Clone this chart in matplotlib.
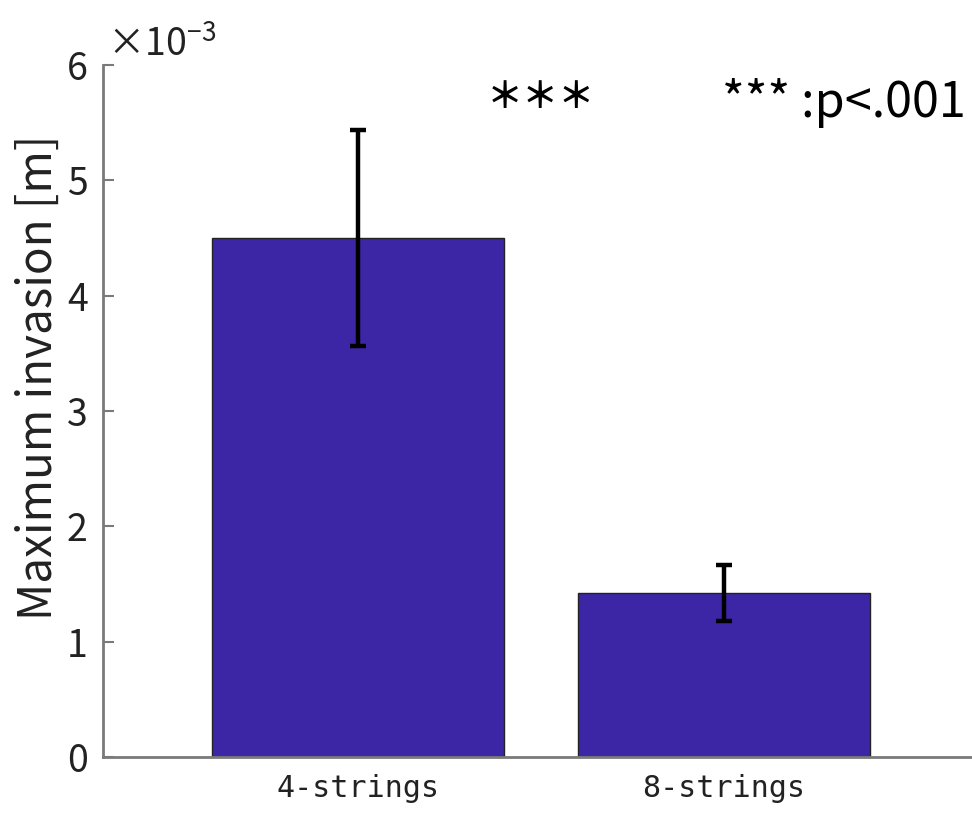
import matplotlib
matplotlib.use("Agg")
import matplotlib.pyplot as plt
from matplotlib.ticker import FuncFormatter

plt.rcParams['font.family'] = ['Noto Sans CJK JP', 'DejaVu Sans']
plt.rcParams['mathtext.fontset'] = 'custom'
plt.rcParams['mathtext.rm'] = 'Noto Sans CJK JP'

# Data (metres)
categories = ["4-strings", "8-strings"]
means = [4.50e-3, 1.42e-3]
errors = [0.94e-3, 0.243e-3]
yticks = [0, 1e-3, 2e-3, 3e-3, 4e-3, 5e-3, 6e-3]

bar_color = "#3C26A6"
axis_gray = "#7a7a7a"
text_color = "#222222"

fig = plt.figure(figsize=(9.72, 8.16), dpi=100)
ax = fig.add_axes([0.106, 0.0723, 0.894, 0.848])

x = [1, 2]
ax.bar(x, means, width=0.8, color=bar_color, edgecolor="#222222", linewidth=1.0, zorder=2)
ax.errorbar(x, means, yerr=errors, fmt="none", ecolor="black", elinewidth=3.2,
            capsize=6, capthick=3.2, zorder=3)

ax.set_xlim(0.303, 2.678)
ax.set_ylim(0, 6e-3)
ax.set_yticks(yticks)
ax.yaxis.set_major_formatter(FuncFormatter(lambda v, p: f"{v * 1e3:.0f}"))
ax.set_xticks(x)
ax.set_xticklabels(categories, family="DejaVu Sans Mono")

for side in ("top", "right"):
    ax.spines[side].set_visible(False)
for side in ("left", "bottom"):
    ax.spines[side].set_color(axis_gray)
    ax.spines[side].set_linewidth(2)

ax.tick_params(axis="y", direction="in", length=8, width=1.5, color=axis_gray,
               labelsize=27, labelcolor=text_color, pad=11)
ax.tick_params(axis="x", length=0, labelsize=21.6, labelcolor=text_color, pad=12)

ax.set_ylabel("Maximum invasion [m]", fontsize=33, color=text_color)
ax.yaxis.set_label_coords(-0.046, 0.548)

# exponent label at the top of the y axis
fig.text(0.110, 0.932, r"$\mathregular{\times10^{-3}}$", fontsize=27, color=text_color,
         ha="left", va="baseline")

# significance markers
ax.text(1.50, 5.72e-3, "＊＊＊", fontsize=26, fontweight="bold", ha="center", va="center",
        color="black")
ax.text(2.662, 5.55e-3, "*** :p<.001", fontsize=35, ha="right", va="baseline", color="black")

fig.savefig("out.png", dpi=100)
